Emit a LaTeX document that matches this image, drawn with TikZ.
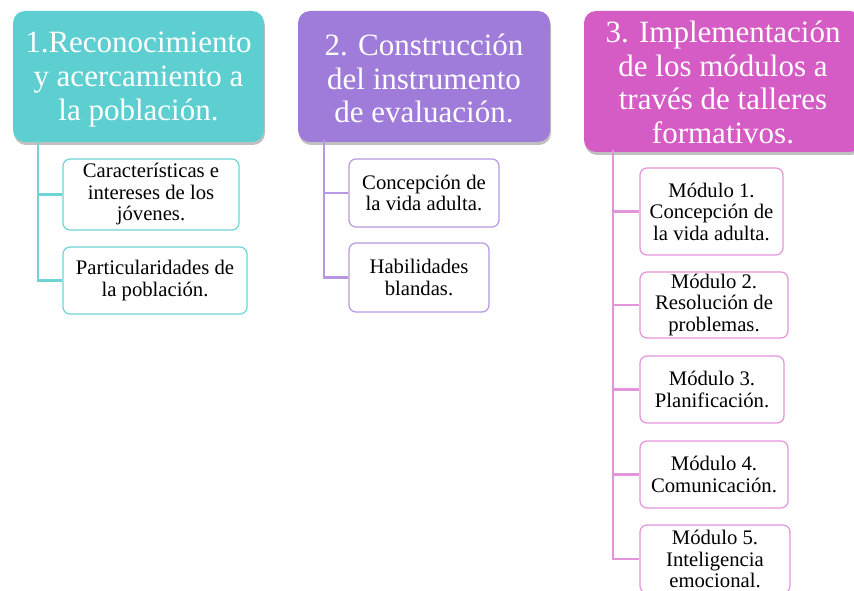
\documentclass[tikz,border=0pt]{standalone}
\usepackage{fontspec}
\setmainfont{Liberation Serif}
\usetikzlibrary{shadows}
\definecolor{tealH}{RGB}{94,207,209}
\definecolor{tealL}{RGB}{112,212,214}
\definecolor{purH}{RGB}{159,124,218}
\definecolor{purL}{RGB}{184,152,228}
\definecolor{magH}{RGB}{212,92,196}
\definecolor{magL}{RGB}{228,148,218}
\tikzset{
  hdr/.style={rounded corners=12pt, fill=#1, inner sep=0pt,
    drop shadow={shadow xshift=1pt, shadow yshift=-3pt, opacity=0.35, fill=black!70}},
  hdrtext/.style={text=white, align=center, inner sep=0pt,
    font=\fontsize{31}{33.8}\selectfont},
  child/.style={rounded corners=7pt, draw=#1, line width=1.2pt, fill=white, align=center,
    inner sep=0pt, font=\fontsize{20.7}{21.5}\selectfont, text=black},
  conn/.style={draw=#1, line width=2.6pt}
}
\begin{document}
\begin{tikzpicture}[x=1pt,y=-1pt]
\useasboundingbox (0,0) rectangle (854,591);
\clip (0,0) rectangle (854,591);
\fill[white] (0,0) rectangle (854,591);

% headers
\node[hdr=tealH, minimum width=251pt, minimum height=131pt] (h1) at (138.5,76.5) {};
\node[hdrtext] (h1t) at ([yshift=-3pt]h1.center)
  {1.Reconocimiento\\y acercamiento a\\la población.};
\node[hdr=purH, minimum width=252pt, minimum height=131pt] (h2) at (424,76.5) {};
\node[hdrtext] (h2t) at ([yshift=-2pt]h2.center)
  {2. Construcción\\del instrumento\\de evaluación.};
\node[hdr=magH, minimum width=278pt, minimum height=141pt] (h3) at (723,81.5) {};
\node[hdrtext] (h3t) at ([yshift=-1pt]h3.center)
  {3. Implementación\\de los módulos a\\través de talleres\\formativos.};

% trunk coordinates
\coordinate (t1) at (38,140);
\coordinate (t2) at (324,140);
\coordinate (t3) at (613,150);

% children column 1
\node[child=tealL, minimum width=176pt, minimum height=71pt] (c11) at (151,194.5)
  {Características e\\intereses de los\\jóvenes.};
\node[child=tealL, minimum width=184pt, minimum height=67pt] (c12) at (155,280.5)
  {Particularidades de\\la población.};

% children column 2
\node[child=purL, minimum width=150pt, minimum height=68pt] (c21) at (424,193)
  {Concepción de\\la vida adulta.};
\node[child=purL, minimum width=140pt, minimum height=69pt] (c22) at (419,277.5)
  {Habilidades\\blandas.};

% children column 3
\node[child=magL, minimum width=143pt, minimum height=87pt] (m1) at (711.5,211.5)
  {Módulo 1.\\Concepción de\\la vida adulta.};
\node[child=magL, minimum width=148pt, minimum height=66pt] (m2) at (714,305)
  {Módulo 2.\\Resolución de\\problemas.};
\node[child=magL, minimum width=144pt, minimum height=67pt] (m3) at (712,389.5)
  {Módulo 3.\\Planificación.};
\node[child=magL, minimum width=148pt, minimum height=67pt] (m4) at (714,474.5)
  {Módulo 4.\\Comunicación.};
\node[child=magL, minimum width=150pt, minimum height=68pt] (m5) at (715,559)
  {Módulo 5.\\Inteligencia\\emocional.};

% connectors
\draw[conn=tealL] (t1) |- (c11.west);
\draw[conn=tealL] (t1) |- (c12.west);
\draw[conn=purL] (t2) |- (c21.west);
\draw[conn=purL] (t2) |- (c22.west);
\draw[conn=magL] (t3) |- (m1.west);
\draw[conn=magL] (t3) |- (m2.west);
\draw[conn=magL] (t3) |- (m3.west);
\draw[conn=magL] (t3) |- (m4.west);
\draw[conn=magL] (t3) |- (m5.west);
\end{tikzpicture}
\end{document}
